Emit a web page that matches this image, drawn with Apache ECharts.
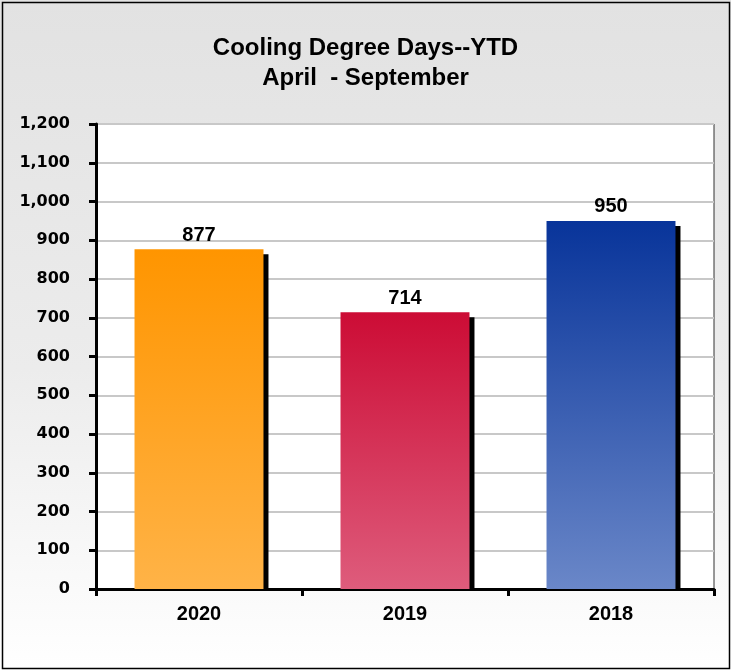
<!DOCTYPE html>
<html>
<head>
<meta charset="utf-8">
<script src="https://cdn.jsdelivr.net/npm/echarts@6/dist/echarts.min.js"></script>
<style>
  html, body { margin: 0; padding: 0; background: #fff; }
  #chart { width: 731px; height: 671px; }
</style>
</head>
<body>
<div id="chart"></div>
<script>
const years = ['2020', '2019', '2018']
const degreeDays = [877, 714, 950]
// top / bottom colour of each bar's gradient
const barTops = ['#ff9500', '#cc0c35', '#08349a']
const barBottoms = ['#ffb347', '#de5c7c', '#6a87c8']
const yTicks = [0, 100, 200, 300, 400, 500, 600, 700, 800, 900, 1000, 1100, 1200]

const font = '"Liberation Sans", Arial, sans-serif'
const wideFont = '"DejaVu Sans", sans-serif'
const chart = echarts.init(document.getElementById('chart'))

const barData = degreeDays.map((v, i) => ({
  value: v,
  itemStyle: {
    color: new echarts.graphic.LinearGradient(0, 0, 0, 1, [
      { offset: 0, color: barTops[i] },
      { offset: 1, color: barBottoms[i] },
    ]),
  },
}))

const options = {
  backgroundColor: new echarts.graphic.LinearGradient(0, 0, 0, 1, [
    { offset: 0, color: '#e2e2e2' },
    { offset: 0.55, color: '#ececec' },
    { offset: 1, color: '#ffffff' },
  ]),
  animation: false,
  title: {
    text: 'Cooling Degree Days--YTD\nApril  - September',
    left: 'center',
    top: 28,
    textStyle: {
      fontFamily: font,
      fontWeight: 'bold',
      fontSize: 24,
      lineHeight: 30,
      color: '#000',
    },
  },
  graphic: [
    {
      type: 'rect',
      shape: { x: 2.5, y: 2.5, width: 727, height: 666 },
      style: { fill: 'none', stroke: '#000', lineWidth: 1.5 },
      silent: true,
    },
  ],
  grid: {
    left: 96,
    right: 17,
    top: 124,
    bottom: 82,
    show: true,
    backgroundColor: '#fff',
    borderColor: '#333',
    borderWidth: 1,
  },
  xAxis: {
    type: 'category',
    data: years,
    axisLine: { lineStyle: { color: '#000', width: 3 } },
    axisTick: { show: true, length: 7, lineStyle: { color: '#000', width: 3 } },
    axisLabel: {
      margin: 15,
      fontFamily: font,
      fontWeight: 'bold',
      fontSize: 20,
      color: '#000',
    },
  },
  yAxis: {
    type: 'value',
    min: yTicks[0],
    max: yTicks[yTicks.length - 1],
    interval: 100,
    axisLine: { show: true, lineStyle: { color: '#000', width: 3 } },
    axisTick: { show: true, length: 7, lineStyle: { color: '#000', width: 3 } },
    splitLine: { lineStyle: { color: '#c8c8c8', width: 2 } },
    axisLabel: {
      margin: 26,
      fontFamily: wideFont,
      fontWeight: 'bold',
      fontSize: 16,
      color: '#000',
      formatter: (v) => v.toLocaleString('en-US'),
    },
  },
  series: [
    {
      // black drop shadow behind each bar
      type: 'custom',
      z: 1,
      silent: true,
      data: degreeDays.map((v, i) => [i, v]),
      renderItem: (params, api) => {
        const top = api.coord([api.value(0), api.value(1)])
        const base = api.coord([api.value(0), 0])
        const w = api.size([1, 0])[0] * 0.626
        return {
          type: 'rect',
          shape: { x: top[0] - w / 2 + 5, y: top[1] + 5, width: w, height: base[1] - top[1] - 5 },
          style: { fill: '#000' },
        }
      },
    },
    {
      type: 'bar',
      z: 2,
      barWidth: '62.6%',
      data: barData,
      label: {
        show: true,
        position: 'top',
        distance: 4,
        fontFamily: font,
        fontWeight: 'bold',
        fontSize: 20,
        color: '#000',
      },
    },
  ],
}

chart.setOption(options)
</script>
</body>
</html>
